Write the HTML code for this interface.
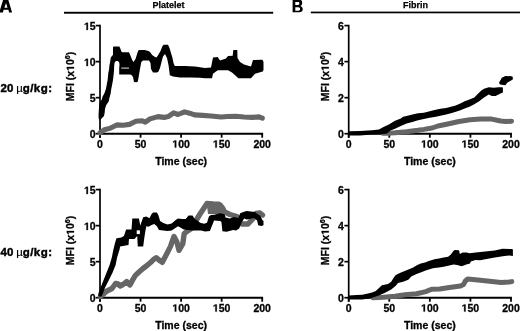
<!DOCTYPE html>
<html><head><meta charset="utf-8"><style>
html,body{margin:0;padding:0;background:#fff;width:520px;height:331px;overflow:hidden}
svg{display:block;will-change:transform}
.t{font-family:"Liberation Sans", sans-serif;font-weight:bold;font-size:10.5px;fill:#000;stroke:#000;stroke-width:0.3px}
.h{font-family:"Liberation Sans", sans-serif;font-weight:bold;font-size:9px;fill:#000;stroke:#000;stroke-width:0.25px}
.lab{font-family:"Liberation Sans", sans-serif;font-weight:bold;font-size:11.5px;fill:#000;stroke:#000;stroke-width:0.45px}
.big{font-family:"Liberation Sans", sans-serif;font-weight:bold;font-size:17.5px;fill:#000}
</style></head><body>
<svg width="520" height="331" viewBox="0 0 520 331">
<path d="M-0.7,12.4 L3.3,-0.8 L8.1,-0.8 L12.1,12.4 L9.1,12.4 L8.4,9.8 L3.6,9.8 L2.9,12.4 Z M4.4,7.8 L6,3.0 L7.5,7.8 Z" fill="#000" fill-rule="evenodd"/>
<path d="M292.6,-0.8 H298.5 C301.2,-0.8 302.2,1.2 302.2,2.9 C302.2,4.4 301.4,5.4 300.3,5.9 C301.8,6.4 302.8,7.6 302.8,9.3 C302.8,11.2 301.4,12.2 299.2,12.2 H292.6 Z M295.3,2.1 H298 C298.9,2.1 299.4,2.8 299.4,3.5 C299.4,4.2 298.9,4.9 298,4.9 H295.3 Z M295.3,7.3 H298.4 C299.5,7.3 300.1,8.1 300.1,9 C300.1,9.9 299.5,10.7 298.4,10.7 H295.3 Z" fill="#000" fill-rule="evenodd"/>
<rect x="64" y="11.8" width="209.2" height="1.9" fill="#000"/>
<rect x="310.8" y="11.6" width="209.2" height="1.7" fill="#000"/>
<text x="168.5" y="8.3" text-anchor="middle" class="h">Platelet</text>
<text x="415.6" y="8.3" text-anchor="middle" class="h">Fibrin</text>
<text y="92.3" class="lab"><tspan x="0.5">20</tspan><tspan x="16.3" font-weight="normal" stroke-width="0.15">&#181;</tspan><tspan x="22.7" letter-spacing="0.45">g/kg:</tspan></text>
<text y="256.3" class="lab"><tspan x="0.5">40</tspan><tspan x="16.3" font-weight="normal" stroke-width="0.15">&#181;</tspan><tspan x="22.7" letter-spacing="0.45">g/kg:</tspan></text>
<g transform="translate(74,76.5) rotate(-90)"><text x="-24.70" y="0" class="t">MFI (x&#8199;0<tspan font-size="7.0" dy="-3.6">6</tspan><tspan dy="3.6">)</tspan></text><path d="M478,0L478,1170L140,959L140,1180L493,1409L759,1409L759,0Z" transform="translate(5.63,0.00) scale(0.005127,-0.005127)" fill="#000" stroke="#000" stroke-width="58.5"/></g>
<g transform="translate(328.8,76.5) rotate(-90)"><text x="-24.70" y="0" class="t">MFI (x&#8199;0<tspan font-size="7.0" dy="-3.6">6</tspan><tspan dy="3.6">)</tspan></text><path d="M478,0L478,1170L140,959L140,1180L493,1409L759,1409L759,0Z" transform="translate(5.63,0.00) scale(0.005127,-0.005127)" fill="#000" stroke="#000" stroke-width="58.5"/></g>
<g transform="translate(74,240.5) rotate(-90)"><text x="-24.70" y="0" class="t">MFI (x&#8199;0<tspan font-size="7.0" dy="-3.6">6</tspan><tspan dy="3.6">)</tspan></text><path d="M478,0L478,1170L140,959L140,1180L493,1409L759,1409L759,0Z" transform="translate(5.63,0.00) scale(0.005127,-0.005127)" fill="#000" stroke="#000" stroke-width="58.5"/></g>
<g transform="translate(328.8,240.5) rotate(-90)"><text x="-24.70" y="0" class="t">MFI (x&#8199;0<tspan font-size="7.0" dy="-3.6">6</tspan><tspan dy="3.6">)</tspan></text><path d="M478,0L478,1170L140,959L140,1180L493,1409L759,1409L759,0Z" transform="translate(5.63,0.00) scale(0.005127,-0.005127)" fill="#000" stroke="#000" stroke-width="58.5"/></g>
<line x1="100" y1="24.8" x2="100" y2="137.7" stroke="#000" stroke-width="1.7"/>
<line x1="100" y1="133.7" x2="263.09999999999997" y2="133.7" stroke="#000" stroke-width="2"/>
<line x1="95.7" y1="133.70" x2="100" y2="133.70" stroke="#000" stroke-width="1.7"/>
<text x="89.86" y="138.10" class="t">0</text>
<line x1="95.7" y1="97.67" x2="100" y2="97.67" stroke="#000" stroke-width="1.7"/>
<text x="89.86" y="102.07" class="t">5</text>
<line x1="95.7" y1="61.63" x2="100" y2="61.63" stroke="#000" stroke-width="1.7"/>
<text x="84.02" y="66.03" class="t">&#8199;0</text><path d="M478,0L478,1170L140,959L140,1180L493,1409L759,1409L759,0Z" transform="translate(84.02,66.03) scale(0.005127,-0.005127)" fill="#000" stroke="#000" stroke-width="58.5"/>
<line x1="95.7" y1="25.60" x2="100" y2="25.60" stroke="#000" stroke-width="1.7"/>
<text x="84.02" y="30.00" class="t">&#8199;5</text><path d="M478,0L478,1170L140,959L140,1180L493,1409L759,1409L759,0Z" transform="translate(84.02,30.00) scale(0.005127,-0.005127)" fill="#000" stroke="#000" stroke-width="58.5"/>
<line x1="100.00" y1="133.7" x2="100.00" y2="137.7" stroke="#000" stroke-width="1.8"/>
<text x="97.08" y="147.60" class="t">0</text>
<line x1="140.55" y1="133.7" x2="140.55" y2="137.7" stroke="#000" stroke-width="1.8"/>
<text x="134.71" y="147.60" class="t">50</text>
<line x1="181.10" y1="133.7" x2="181.10" y2="137.7" stroke="#000" stroke-width="1.8"/>
<text x="172.34" y="147.60" class="t">&#8199;00</text><path d="M478,0L478,1170L140,959L140,1180L493,1409L759,1409L759,0Z" transform="translate(172.34,147.60) scale(0.005127,-0.005127)" fill="#000" stroke="#000" stroke-width="58.5"/>
<line x1="221.65" y1="133.7" x2="221.65" y2="137.7" stroke="#000" stroke-width="1.8"/>
<text x="212.89" y="147.60" class="t">&#8199;50</text><path d="M478,0L478,1170L140,959L140,1180L493,1409L759,1409L759,0Z" transform="translate(212.89,147.60) scale(0.005127,-0.005127)" fill="#000" stroke="#000" stroke-width="58.5"/>
<line x1="262.20" y1="133.7" x2="262.20" y2="137.7" stroke="#000" stroke-width="1.8"/>
<text x="253.44" y="147.60" class="t">200</text>
<text x="181.10" y="164.90" text-anchor="middle" class="t">Time (sec)</text>
<line x1="348.7" y1="24.8" x2="348.7" y2="137.7" stroke="#000" stroke-width="1.7"/>
<line x1="348.7" y1="133.7" x2="511.9" y2="133.7" stroke="#000" stroke-width="2"/>
<line x1="344.4" y1="133.70" x2="348.7" y2="133.70" stroke="#000" stroke-width="1.7"/>
<text x="338.06" y="138.10" class="t">0</text>
<line x1="344.4" y1="97.67" x2="348.7" y2="97.67" stroke="#000" stroke-width="1.7"/>
<text x="338.06" y="102.07" class="t">2</text>
<line x1="344.4" y1="61.63" x2="348.7" y2="61.63" stroke="#000" stroke-width="1.7"/>
<text x="338.06" y="66.03" class="t">4</text>
<line x1="344.4" y1="25.60" x2="348.7" y2="25.60" stroke="#000" stroke-width="1.7"/>
<text x="338.06" y="30.00" class="t">6</text>
<line x1="348.70" y1="133.7" x2="348.70" y2="137.7" stroke="#000" stroke-width="1.8"/>
<text x="345.78" y="147.60" class="t">0</text>
<line x1="389.27" y1="133.7" x2="389.27" y2="137.7" stroke="#000" stroke-width="1.8"/>
<text x="383.44" y="147.60" class="t">50</text>
<line x1="429.85" y1="133.7" x2="429.85" y2="137.7" stroke="#000" stroke-width="1.8"/>
<text x="421.09" y="147.60" class="t">&#8199;00</text><path d="M478,0L478,1170L140,959L140,1180L493,1409L759,1409L759,0Z" transform="translate(421.09,147.60) scale(0.005127,-0.005127)" fill="#000" stroke="#000" stroke-width="58.5"/>
<line x1="470.43" y1="133.7" x2="470.43" y2="137.7" stroke="#000" stroke-width="1.8"/>
<text x="461.67" y="147.60" class="t">&#8199;50</text><path d="M478,0L478,1170L140,959L140,1180L493,1409L759,1409L759,0Z" transform="translate(461.67,147.60) scale(0.005127,-0.005127)" fill="#000" stroke="#000" stroke-width="58.5"/>
<line x1="511.00" y1="133.7" x2="511.00" y2="137.7" stroke="#000" stroke-width="1.8"/>
<text x="502.24" y="147.60" class="t">200</text>
<text x="429.85" y="164.90" text-anchor="middle" class="t">Time (sec)</text>
<line x1="100" y1="188.79999999999998" x2="100" y2="301.7" stroke="#000" stroke-width="1.7"/>
<line x1="100" y1="297.7" x2="263.09999999999997" y2="297.7" stroke="#000" stroke-width="2"/>
<line x1="95.7" y1="297.70" x2="100" y2="297.70" stroke="#000" stroke-width="1.7"/>
<text x="89.86" y="302.10" class="t">0</text>
<line x1="95.7" y1="261.67" x2="100" y2="261.67" stroke="#000" stroke-width="1.7"/>
<text x="89.86" y="266.07" class="t">5</text>
<line x1="95.7" y1="225.63" x2="100" y2="225.63" stroke="#000" stroke-width="1.7"/>
<text x="84.02" y="230.03" class="t">&#8199;0</text><path d="M478,0L478,1170L140,959L140,1180L493,1409L759,1409L759,0Z" transform="translate(84.02,230.03) scale(0.005127,-0.005127)" fill="#000" stroke="#000" stroke-width="58.5"/>
<line x1="95.7" y1="189.60" x2="100" y2="189.60" stroke="#000" stroke-width="1.7"/>
<text x="84.02" y="194.00" class="t">&#8199;5</text><path d="M478,0L478,1170L140,959L140,1180L493,1409L759,1409L759,0Z" transform="translate(84.02,194.00) scale(0.005127,-0.005127)" fill="#000" stroke="#000" stroke-width="58.5"/>
<line x1="100.00" y1="297.7" x2="100.00" y2="301.7" stroke="#000" stroke-width="1.8"/>
<text x="97.08" y="311.60" class="t">0</text>
<line x1="140.55" y1="297.7" x2="140.55" y2="301.7" stroke="#000" stroke-width="1.8"/>
<text x="134.71" y="311.60" class="t">50</text>
<line x1="181.10" y1="297.7" x2="181.10" y2="301.7" stroke="#000" stroke-width="1.8"/>
<text x="172.34" y="311.60" class="t">&#8199;00</text><path d="M478,0L478,1170L140,959L140,1180L493,1409L759,1409L759,0Z" transform="translate(172.34,311.60) scale(0.005127,-0.005127)" fill="#000" stroke="#000" stroke-width="58.5"/>
<line x1="221.65" y1="297.7" x2="221.65" y2="301.7" stroke="#000" stroke-width="1.8"/>
<text x="212.89" y="311.60" class="t">&#8199;50</text><path d="M478,0L478,1170L140,959L140,1180L493,1409L759,1409L759,0Z" transform="translate(212.89,311.60) scale(0.005127,-0.005127)" fill="#000" stroke="#000" stroke-width="58.5"/>
<line x1="262.20" y1="297.7" x2="262.20" y2="301.7" stroke="#000" stroke-width="1.8"/>
<text x="253.44" y="311.60" class="t">200</text>
<text x="181.10" y="328.90" text-anchor="middle" class="t">Time (sec)</text>
<line x1="348.7" y1="188.79999999999998" x2="348.7" y2="301.7" stroke="#000" stroke-width="1.7"/>
<line x1="348.7" y1="297.7" x2="511.9" y2="297.7" stroke="#000" stroke-width="2"/>
<line x1="344.4" y1="297.70" x2="348.7" y2="297.70" stroke="#000" stroke-width="1.7"/>
<text x="338.06" y="302.10" class="t">0</text>
<line x1="344.4" y1="261.67" x2="348.7" y2="261.67" stroke="#000" stroke-width="1.7"/>
<text x="338.06" y="266.07" class="t">2</text>
<line x1="344.4" y1="225.63" x2="348.7" y2="225.63" stroke="#000" stroke-width="1.7"/>
<text x="338.06" y="230.03" class="t">4</text>
<line x1="344.4" y1="189.60" x2="348.7" y2="189.60" stroke="#000" stroke-width="1.7"/>
<text x="338.06" y="194.00" class="t">6</text>
<line x1="348.70" y1="297.7" x2="348.70" y2="301.7" stroke="#000" stroke-width="1.8"/>
<text x="345.78" y="311.60" class="t">0</text>
<line x1="389.27" y1="297.7" x2="389.27" y2="301.7" stroke="#000" stroke-width="1.8"/>
<text x="383.44" y="311.60" class="t">50</text>
<line x1="429.85" y1="297.7" x2="429.85" y2="301.7" stroke="#000" stroke-width="1.8"/>
<text x="421.09" y="311.60" class="t">&#8199;00</text><path d="M478,0L478,1170L140,959L140,1180L493,1409L759,1409L759,0Z" transform="translate(421.09,311.60) scale(0.005127,-0.005127)" fill="#000" stroke="#000" stroke-width="58.5"/>
<line x1="470.43" y1="297.7" x2="470.43" y2="301.7" stroke="#000" stroke-width="1.8"/>
<text x="461.67" y="311.60" class="t">&#8199;50</text><path d="M478,0L478,1170L140,959L140,1180L493,1409L759,1409L759,0Z" transform="translate(461.67,311.60) scale(0.005127,-0.005127)" fill="#000" stroke="#000" stroke-width="58.5"/>
<line x1="511.00" y1="297.7" x2="511.00" y2="301.7" stroke="#000" stroke-width="1.8"/>
<text x="502.24" y="311.60" class="t">200</text>
<text x="429.85" y="328.90" text-anchor="middle" class="t">Time (sec)</text>
<polyline points="100.0,132.8 104.3,129.7 110.6,128.1 116.9,124.9 123.2,125.2 129.5,124.4 135.9,121.3 142.2,120.8 145.3,122.1 150.0,118.9 158.0,116.6 164.2,117.4 168.2,116.6 173.7,112.9 178.0,114.5 184.6,111.9 189.6,113.2 194.5,114.9 202.8,115.4 211.0,116.0 221.0,117.0 227.6,116.5 235.9,116.2 244.0,117.0 252.4,117.4 259.0,116.9 262.3,118.2" fill="none" stroke="#666666" stroke-width="5.1" stroke-linejoin="round" stroke-linecap="round"/>
<polygon points="98.8,119.0 98.5,116.0 98.9,109.0 99.3,105.0 100.4,101.5 101.8,99.5 102.6,96.5 104.3,93.5 106.0,88.8 106.9,83.7 107.6,80.1 108.0,76.5 108.3,72.9 109.1,69.2 109.4,65.6 110.1,62.0 110.8,57.5 113.0,54.8 113.0,47.5 113.6,46.6 119.4,46.6 120.5,49.0 121.5,51.8 122.4,52.3 129.0,52.3 130.0,54.5 132.2,60.0 133.5,62.0 135.5,59.0 137.7,52.0 138.5,50.2 140.0,50.0 144.7,49.9 148.3,51.0 149.8,51.7 152.2,55.0 154.6,56.8 156.5,57.5 158.2,55.0 160.5,51.0 162.5,46.0 163.7,44.8 168.0,44.8 169.5,48.0 171.0,53.0 172.5,58.0 173.5,63.0 174.5,65.5 175.0,66.0 185.0,66.0 195.0,66.5 205.0,67.9 211.0,67.5 213.0,57.5 217.7,57.0 220.0,60.4 226.0,58.5 228.0,56.0 232.7,55.8 233.3,50.0 237.3,50.0 237.5,58.0 240.0,62.0 244.0,64.5 251.0,66.5 253.0,60.0 262.5,59.8 263.5,62.0 263.5,70.0 262.7,71.4 255.0,73.7 251.0,78.3 238.4,78.3 232.0,72.5 228.0,70.2 217.7,70.2 213.0,73.7 212.0,78.3 205.0,78.3 200.0,77.8 190.0,77.5 180.0,77.5 173.0,76.5 169.8,75.2 169.2,70.0 168.5,65.0 167.0,58.0 165.0,54.0 163.0,56.5 161.5,62.0 160.0,68.0 158.5,71.5 157.0,72.5 153.0,72.5 151.0,69.0 150.5,63.0 149.0,60.5 143.0,60.5 141.3,62.0 139.8,70.0 138.5,78.0 137.7,81.7 136.5,82.3 134.0,82.0 133.0,77.0 131.5,75.0 130.0,74.6 119.2,74.6 119.2,68.7 119.5,64.0 119.0,62.0 117.6,61.0 115.8,61.1 114.5,63.0 114.1,67.0 114.1,69.2 113.8,72.9 113.4,76.5 113.0,80.1 112.3,83.7 111.3,88.8 110.6,93.7 109.4,98.0 108.7,101.6 106.1,105.2 105.0,108.9 104.7,112.5 104.0,116.1 101.8,118.3 100.5,119.5 99.0,119.5" fill="#000"/>
<line x1="121.3" y1="68.1" x2="129" y2="68.1" stroke="#fff" stroke-width="0.9"/>
<polyline points="383.0,133.2 387.0,133.2 395.0,132.8 406.6,131.7 418.0,130.3 424.0,129.4 432.0,128.0 438.0,126.0 447.7,124.0 459.0,121.5 470.0,119.8 480.9,119.1 491.7,119.1 500.8,121.0 506.0,121.5 511.5,121.2" fill="none" stroke="#666666" stroke-width="5.0" stroke-linejoin="round" stroke-linecap="round"/>
<polygon points="348.7,131.3 360.0,131.1 372.0,130.2 378.9,129.4 383.5,127.1 389.3,124.2 395.0,120.8 400.8,118.5 403.1,116.7 406.6,116.1 412.4,114.4 418.1,113.3 423.9,112.7 429.7,111.3 434.6,110.0 440.4,108.8 446.1,107.9 451.9,106.5 455.0,105.7 459.8,103.8 464.7,101.3 469.5,99.4 474.3,97.5 478.2,93.6 481.1,90.7 484.0,88.8 488.8,87.3 493.7,87.8 498.5,87.3 502.4,87.3 502.9,88.0 502.9,92.6 500.5,93.6 495.6,96.0 491.8,96.0 488.8,94.6 484.0,97.5 479.2,101.3 474.3,104.2 469.5,106.7 464.7,108.6 459.8,110.5 455.0,112.0 451.9,112.9 446.1,114.6 440.4,115.8 434.6,116.9 429.7,117.8 423.9,119.0 418.1,120.2 412.4,121.9 406.6,123.6 400.8,126.0 395.0,128.8 390.5,130.6 387.0,133.4 381.2,134.3 372.0,134.6 360.0,135.6 348.7,135.6" fill="#000"/>
<polygon points="499.0,82.7 501.8,77.7 505.4,75.9 511.7,76.3 512.8,77.0 512.8,79.5 507.2,82.7 505.4,85.2 500.0,84.5" fill="#000"/>
<polyline points="100.5,296.5 103.0,294.5 106.0,291.5 109.0,290.0 112.0,288.5 115.6,283.5 118.0,284.0 120.1,286.0 123.0,284.5 126.7,281.5 129.8,285.0 131.0,283.0 133.0,279.3 135.4,275.4 139.0,272.0 143.0,268.5 147.0,265.5 150.8,262.3 153.5,259.5 156.2,257.7 159.0,260.0 162.3,262.3 166.0,255.3 170.4,246.6 174.0,236.5 177.0,242.3 179.0,250.3 182.8,243.7 184.2,233.6 188.0,230.7 192.0,228.0 196.4,220.0 200.0,214.0 204.0,208.0 207.0,203.5 212.0,204.0 216.0,206.0 220.0,205.0 222.5,208.0 224.6,212.0 230.0,214.5 237.0,216.5 242.0,224.0 248.0,224.0 252.7,219.0 256.0,213.5 260.0,213.0 262.5,215.0" fill="none" stroke="#666666" stroke-width="5.4" stroke-linejoin="round" stroke-linecap="round"/>
<polygon points="206.5,202.0 214.0,201.5 219.3,201.6 222.4,203.7 224.6,209.0 224.6,214.0 208.0,214.0" fill="#666666"/>
<polygon points="98.3,295.5 98.3,293.7 100.5,287.7 103.5,280.2 106.6,272.6 109.6,265.1 111.8,257.5 113.3,250.0 115.0,243.0 116.5,238.2 121.3,237.6 124.0,236.0 126.1,229.4 131.5,229.4 132.3,218.4 138.9,218.4 140.3,225.5 141.5,222.0 143.2,217.2 146.3,216.6 149.5,218.2 151.6,214.0 153.2,212.4 156.9,212.4 158.5,215.6 160.1,220.9 163.3,223.0 167.5,224.6 171.7,223.5 176.0,219.8 178.0,218.5 181.9,219.0 185.7,219.0 188.6,215.6 192.5,215.6 194.4,218.5 197.3,220.4 200.2,222.8 204.1,223.8 207.0,222.8 208.9,216.6 210.9,215.1 214.0,214.8 220.3,213.2 224.6,214.3 225.6,217.4 229.8,218.5 234.0,216.9 238.3,218.0 240.2,213.2 243.4,212.1 246.6,211.1 250.8,211.6 255.0,212.1 257.1,213.7 260.3,215.8 262.4,220.1 263.5,221.0 263.5,225.3 261.3,225.9 258.2,225.3 257.1,220.6 254.0,218.0 249.7,219.0 246.6,219.5 244.4,218.5 242.3,221.1 239.2,228.5 236.0,230.6 233.0,230.1 226.7,231.7 222.4,231.2 221.4,222.0 220.3,221.1 214.0,220.6 213.7,221.4 211.8,226.2 209.9,231.0 205.0,231.5 201.2,230.6 197.3,230.6 192.5,230.6 187.7,230.1 183.8,229.6 179.9,227.2 178.0,226.2 175.0,228.3 171.7,230.4 167.5,230.9 163.3,230.4 159.0,229.9 156.9,226.2 154.3,224.0 151.6,225.1 148.5,226.7 146.3,226.2 145.3,231.5 144.3,238.0 143.2,246.6 137.8,246.6 137.2,236.0 134.5,239.0 129.0,239.0 128.5,245.0 120.1,246.6 119.5,250.0 119.4,250.0 117.1,257.5 115.6,265.1 112.6,272.6 108.8,280.2 105.0,287.7 102.8,293.7 101.5,296.5 99.0,296.5" fill="#000"/>
<polygon points="136.7,230.3 139.9,230.3 139.9,234.1 136.7,234.1" fill="#fff"/>
<polyline points="373.0,297.8 383.5,297.2 395.0,296.2 405.0,294.8 416.5,293.7 425.8,291.6 431.5,289.3 439.6,289.0 451.1,287.3 460.4,286.1 463.5,284.5 465.4,281.0 467.7,279.0 478.0,280.1 489.6,281.3 501.1,282.5 509.2,282.0 511.8,281.6" fill="none" stroke="#666666" stroke-width="5.0" stroke-linejoin="round" stroke-linecap="round"/>
<polygon points="348.7,295.4 356.5,295.1 362.3,294.8 368.0,293.5 372.0,292.5 375.8,291.0 379.0,288.0 381.9,285.2 388.0,284.0 391.2,281.8 393.5,278.0 395.8,275.0 400.4,272.7 406.5,270.2 412.7,267.8 417.3,265.0 420.8,263.5 425.0,262.5 428.8,260.9 434.5,259.2 439.0,258.5 443.6,257.6 448.1,256.7 450.9,254.4 453.0,251.5 454.5,250.0 459.0,250.3 459.9,254.0 462.6,252.6 466.3,252.6 469.8,253.3 475.6,252.5 485.2,251.5 494.8,250.6 502.5,248.8 512.2,249.0 512.9,249.8 512.9,255.9 509.3,255.6 504.5,256.0 494.8,257.4 485.2,259.2 480.4,260.2 475.6,259.9 470.8,261.6 470.0,263.4 466.3,264.4 461.7,266.2 457.2,264.9 453.6,264.4 448.1,265.8 443.6,266.7 439.0,267.6 434.5,268.0 432.0,268.4 425.7,270.5 420.6,272.5 416.5,274.1 411.3,276.6 408.3,279.7 403.1,281.8 398.0,282.9 395.8,285.8 391.2,289.6 385.0,292.7 380.0,295.0 375.8,296.5 370.4,298.3 362.3,299.4 348.7,299.5" fill="#000"/>
</svg>
</body></html>
